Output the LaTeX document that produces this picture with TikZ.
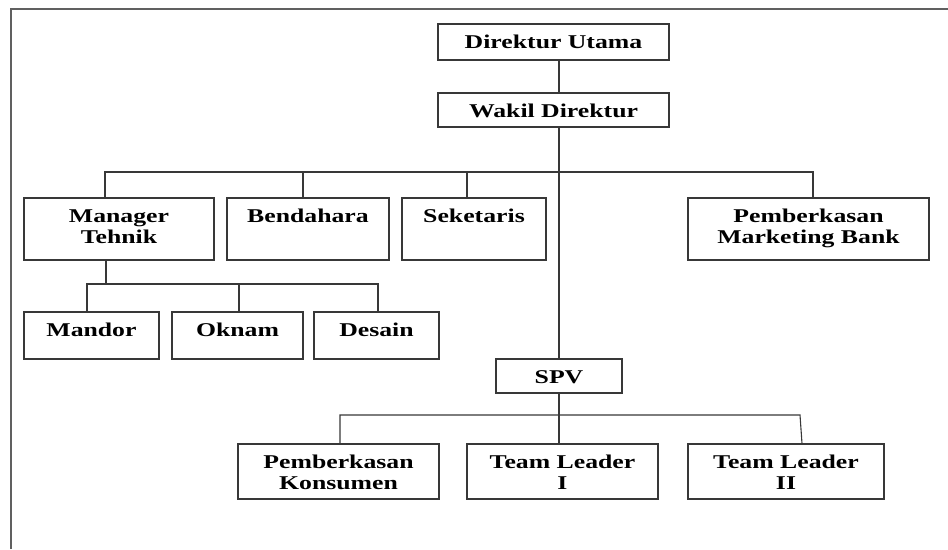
\documentclass[tikz,border=0pt]{standalone}
\usepackage{fontspec}
\setmainfont{Liberation Serif}[FakeStretch=1.32]
\definecolor{boxc}{HTML}{383838}
\definecolor{framec}{HTML}{606060}
\newcommand\bxt[3]{\parbox[c][#2][t]{#1}{\centering\fontsize{19.5}{21}\selectfont\bfseries\rule{0pt}{24.5pt}#3}}
\tikzset{
  orgbox/.style={draw=boxc, line width=1.1pt, inner sep=0pt, fill=white},
  conn/.style={draw=boxc, line width=1.1pt},
  frameline/.style={draw=framec, line width=1.8pt}
}
\begin{document}
\begin{tikzpicture}[x=1pt, y=-1pt]
\useasboundingbox (0,0) rectangle (948,549);
\draw[frameline] (11,549) -- (11,9) -- (948,9);

% boxes
\node[orgbox] (du)  at (553.5,42)   {\bxt{231pt}{36pt}{Direktur Utama}};
\node[orgbox] (wd)  at (553.5,110)  {\bxt{231pt}{34pt}{Wakil Direktur}};
\node[orgbox] (mt)  at (119,229)    {\bxt{190pt}{62pt}{Manager\\Tehnik}};
\node[orgbox] (bd)  at (308,229)    {\bxt{162pt}{62pt}{Bendahara}};
\node[orgbox] (sk)  at (474,229)    {\bxt{144pt}{62pt}{Seketaris}};
\node[orgbox] (pmb) at (808.5,229)  {\bxt{241pt}{62pt}{Pemberkasan\\Marketing Bank}};
\node[orgbox] (md)  at (91.5,335.5) {\bxt{135pt}{47pt}{Mandor}};
\node[orgbox] (ok)  at (237.5,335.5){\bxt{131pt}{47pt}{Oknam}};
\node[orgbox] (ds)  at (376.5,335.5){\bxt{125pt}{47pt}{Desain}};
\node[orgbox] (spv) at (559,376)    {\bxt{126pt}{34pt}{SPV}};
\node[orgbox] (pk)  at (338.5,471.5){\bxt{201pt}{55pt}{Pemberkasan\\Konsumen}};
\node[orgbox] (tl1) at (562.5,471.5){\bxt{191pt}{55pt}{Team Leader\\I}};
\node[orgbox] (tl2) at (786,471.5)  {\bxt{196pt}{55pt}{Team Leader\\II}};

% coordinates
\coordinate (tr) at (559,0);
\coordinate (bl) at (105,172);
\coordinate (br) at (813,172);
\coordinate (sl) at (87,284);
\coordinate (sr) at (378,284);
\coordinate (ll) at (340,415);
\coordinate (lr) at (800,415);

% connectors
\draw[conn] (du.south -| tr) -- (wd.north -| tr);
\draw[conn] (wd.south -| tr) -- (spv.north);
\draw[conn] (mt.north -| bl) |- (br) -- (pmb.north -| br);
\draw[conn] ([xshift=-5pt]bd.north) -- ([xshift=-5pt]bd.north |- br);
\draw[conn] ([xshift=-7pt]sk.north) -- ([xshift=-7pt]sk.north |- br);
\draw[conn] ([xshift=-13pt]mt.south) -- ([xshift=-13pt]mt.south |- sl);
\draw[conn] (md.north -| sl) |- (sr) -- (ds.north -| sr);
\draw[conn] ([xshift=1.5pt]ok.north) -- ([xshift=1.5pt]ok.north |- sl);
\draw[conn] (pk.north -| ll) |- (lr) -- ([xshift=16pt]tl2.north);
\draw[conn] (spv.south) -- (spv.south |- tl1.north);
\end{tikzpicture}
\end{document}
